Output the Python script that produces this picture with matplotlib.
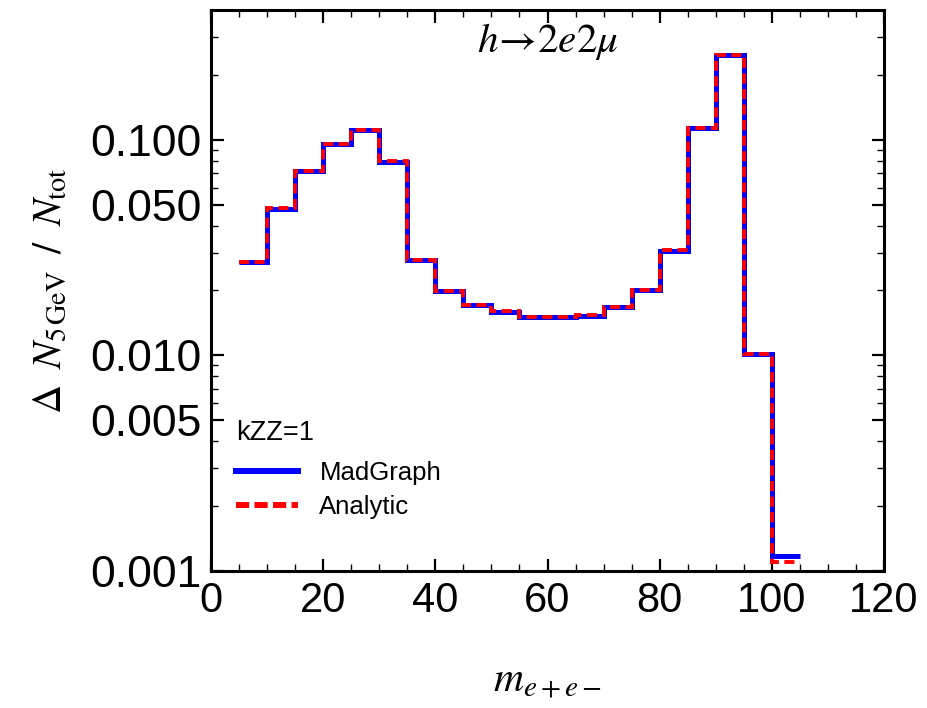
#!/usr/bin/env python3
"""
Normalised m(e+e-) distribution for h -> 2e2mu, MadGraph vs analytic, 5 GeV bins.

Output:
    out.png
"""

import numpy as np
import matplotlib
matplotlib.use('Agg')
import matplotlib.pyplot as plt
import matplotlib.ticker as ticker
from matplotlib.lines import Line2D

plt.rcParams['mathtext.fontset'] = 'stix'
plt.rcParams['font.family'] = ['Liberation Sans', 'DejaVu Sans']

# ── data ─────────────────────────────────────────────────────────────────────
bin_edges = [5, 10, 15, 20, 25, 30, 35, 40, 45, 50, 55, 60, 65, 70, 75, 80,
             85, 90, 95, 100, 105]

madgraph = [0.0270, 0.0480, 0.0714, 0.0957, 0.111, 0.0793, 0.0277, 0.0198,
            0.0172, 0.0159, 0.0151, 0.0151, 0.0153, 0.0167, 0.0201, 0.0306,
            0.113, 0.247, 0.0101, 0.00118]

analytic = [0.0271, 0.0481, 0.0716, 0.0960, 0.111, 0.0795, 0.0278, 0.0199,
            0.0172, 0.0160, 0.0151, 0.0151, 0.0154, 0.0167, 0.0201, 0.0307,
            0.113, 0.247, 0.0101, 0.00110]

series_labels = ['MadGraph', 'Analytic']
y_ticks = [0.001, 0.005, 0.010, 0.050, 0.100]
y_tick_labels = ['0.001', '0.005', '0.010', '0.050', '0.100']
x_ticks = [0, 20, 40, 60, 80, 100, 120]

BLUE = '#0000FF'
RED = '#FF0000'

# ── plot ─────────────────────────────────────────────────────────────────────
fig = plt.figure(figsize=(9.28, 7.08), dpi=100)
ax = fig.add_axes([0.2274, 0.1935, 0.7252, 0.7924])

ax.stairs(madgraph, bin_edges, color=BLUE, lw=3.6, baseline=None, zorder=3)
ax.stairs(analytic, bin_edges, color=RED, lw=2.8, baseline=None,
          linestyle=(0, (2.6, 1.4)), zorder=4)

ax.set_yscale('log')
ax.set_xlim(0, 120)
ax.set_ylim(0.001, 0.40)

ax.set_xticks(x_ticks)
ax.xaxis.set_minor_locator(ticker.MultipleLocator(5))
ax.set_yticks(y_ticks)
ax.set_yticklabels(y_tick_labels)
ax.yaxis.set_minor_locator(ticker.LogLocator(base=10, subs=np.arange(2, 10)))
ax.yaxis.set_minor_formatter(ticker.NullFormatter())

ax.tick_params(which='both', direction='in', top=True, right=True, pad=7)
ax.tick_params(axis='x', labelsize=30)
ax.tick_params(axis='y', labelsize=32)
ax.tick_params(which='major', length=9, width=1.6)
ax.tick_params(which='minor', length=5, width=1.0)
for sp in ax.spines.values():
    sp.set_linewidth(2.2)

ax.set_xlabel(r'$m_{e+e-}$', fontsize=30)
ax.xaxis.set_label_coords(0.5, -0.16)
ax.set_ylabel(r'$\Delta\;\; N_{5\,\mathrm{GeV}}\;\;/\;\;N_{\mathrm{tot}}$',
              fontsize=29)
ax.yaxis.set_label_coords(-0.212, 0.5)

ax.text(0.50, 0.943, r'$h\!\rightarrow\!2e2\mu$', transform=ax.transAxes,
        fontsize=29.5, ha='center', va='center')

# legend block in the lower-left corner
ax.text(0.037, 0.246, 'kZZ=1', transform=ax.transAxes, fontsize=19.5,
        ha='left', va='center')
handles = [Line2D([], [], color=BLUE, lw=4.3),
           Line2D([], [], color=RED, lw=4.3, linestyle=(0, (2.2, 0.9)))]
ax.legend(handles=handles, labels=series_labels,
          loc='center left', bbox_to_anchor=(0.037, 0.145),
          frameon=False, fontsize=18.5, handlelength=2.4, borderpad=0,
          borderaxespad=0, handletextpad=0.85, labelspacing=0.4)

fig.savefig('out.png', dpi=100)
plt.close(fig)
